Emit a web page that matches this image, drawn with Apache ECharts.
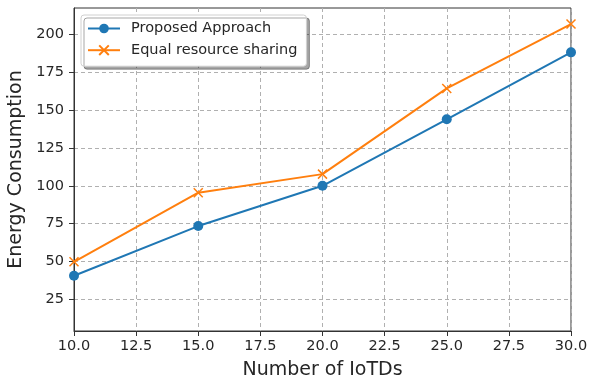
<!DOCTYPE html>
<html>
<head>
<meta charset="utf-8">
<script src="https://cdn.jsdelivr.net/npm/echarts@6/dist/echarts.min.js"></script>
<style>html,body{margin:0;padding:0;background:#fff}#c{width:590px;height:379px}</style>
</head>
<body>
<div id="c"></div>
<script>
const xValues = [10, 15, 20, 25, 30];
const proposed = [40.6, 73.4, 100, 143.9, 188.1];
const equalShare = [49.8, 95.4, 107.7, 164.3, 206.8];
const yTicks = [25, 50, 75, 100, 125, 150, 175, 200];
const seriesNames = ['Proposed Approach', 'Equal resource sharing'];

const chart = echarts.init(document.getElementById('c'));
const font = 'DejaVu Sans';
const textColor = '#262626';
chart.setOption({
  animation: false,
  backgroundColor: '#fff',
  grid: { left: 74, right: 19, top: 8, bottom: 48, outerBoundsMode: 'none', containLabel: false, show: true, borderColor: '#333', borderWidth: 1, backgroundColor: 'transparent' },
  legend: {
    orient: 'vertical', left: 81, top: 15,
    itemWidth: 32, itemHeight: 12, itemGap: 4.7,
    padding: [5, 9, 7.5, 6],
    backgroundColor: '#fff', borderColor: '#d0d0d0', borderWidth: 1, borderRadius: 3,
    shadowColor: 'rgba(0,0,0,0.35)', shadowOffsetX: 3, shadowOffsetY: 3, shadowBlur: 0,
    textStyle: { fontFamily: font, fontSize: 14.5, color: textColor, lineHeight: 17, padding: [0, 0, 0, 6] },
    data: seriesNames
  },
  xAxis: {
    type: 'value', min: 10, max: 30, interval: 2.5,
    name: 'Number of IoTDs', nameLocation: 'middle', nameGap: 30,
    nameTextStyle: { fontFamily: font, fontSize: 19, color: textColor },
    axisLine: { show: true, onZero: false, lineStyle: { color: '#333', width: 1 } },
    axisTick: { show: true, inside: false, length: 5, lineStyle: { color: '#333' } },
    axisLabel: { fontFamily: font, fontSize: 14.5, color: textColor, margin: 8, formatter: v => v.toFixed(1) },
    splitLine: { show: true, lineStyle: { color: '#b0b0b0', type: [4, 3], width: 1 } }
  },
  yAxis: {
    type: 'value', min: 4.1, max: 217.4,
    name: 'Energy Consumption', nameLocation: 'middle', nameGap: 42,
    nameTextStyle: { fontFamily: font, fontSize: 19, color: textColor },
    axisLine: { show: true, onZero: false, lineStyle: { color: '#333', width: 1 } },
    axisTick: { show: true, inside: false, length: 5, lineStyle: { color: '#333' }, customValues: yTicks },
    axisLabel: { fontFamily: font, fontSize: 14.5, color: textColor, margin: 10, customValues: yTicks },
    splitLine: { show: true, lineStyle: { color: '#b0b0b0', type: [4, 3], width: 1 } }
  },
  series: [
    {
      name: seriesNames[0], type: 'line',
      data: xValues.map((x, i) => [x, proposed[i]]),
      symbol: 'circle', symbolSize: 10,
      color: '#1f77b4',
      lineStyle: { width: 2, color: '#1f77b4' },
      itemStyle: { color: '#1f77b4' }
    },
    {
      name: seriesNames[1], type: 'line',
      data: xValues.map((x, i) => [x, equalShare[i]]),
      symbol: 'path://M0,0L10,10M10,0L0,10', symbolSize: 9,
      color: '#ff7f0e',
      lineStyle: { width: 2, color: '#ff7f0e' },
      itemStyle: { color: 'none', borderColor: '#ff7f0e', borderWidth: 1.5 }
    }
  ]
});
</script>
</body>
</html>
